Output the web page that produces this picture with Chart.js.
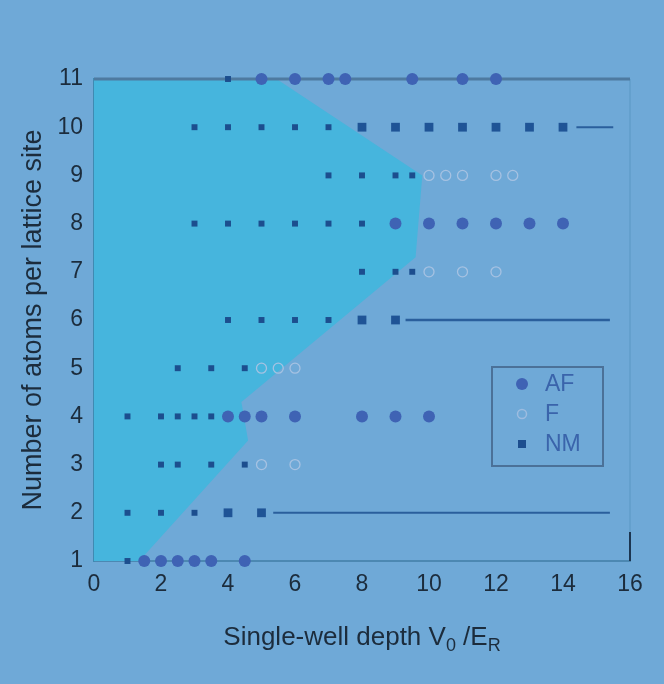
<!DOCTYPE html>
<html><head><meta charset="utf-8">
<script src="https://cdn.jsdelivr.net/npm/chart.js@4.4.0/dist/chart.umd.min.js"></script>
<style>
html,body{margin:0;padding:0;background:#6fa9d7;}
#wrap{width:664px;height:684px;position:relative;}
</style></head><body>
<div id="wrap"><canvas id="c" width="664" height="684"></canvas></div>
<script>
// ---- data ----
const xTickValues = [0, 2, 4, 6, 8, 10, 12, 14, 16];
const yTickValues = [1, 2, 3, 4, 5, 6, 7, 8, 9, 10, 11];
const seriesNames = ['AF', 'F', 'NM'];
const xTitleParts = ['Single-well depth V', '0', ' /E', 'R'];
const yTitle = 'Number of atoms per lattice site';

const afPoints = [
  {x:5,y:11},{x:6,y:11},{x:7,y:11},{x:7.5,y:11},{x:9.5,y:11},{x:11,y:11},{x:12,y:11},
  {x:9,y:8},{x:10,y:8},{x:11,y:8},{x:12,y:8},{x:13,y:8},{x:14,y:8},
  {x:4,y:4},{x:4.5,y:4},{x:5,y:4},{x:6,y:4},{x:8,y:4},{x:9,y:4},{x:10,y:4},
  {x:1.5,y:1},{x:2,y:1},{x:2.5,y:1},{x:3,y:1},{x:3.5,y:1},{x:4.5,y:1}
];
const fPoints = [
  {x:10,y:9},{x:10.5,y:9},{x:11,y:9},{x:12,y:9},{x:12.5,y:9},
  {x:10,y:7},{x:11,y:7},{x:12,y:7},
  {x:5,y:5},{x:5.5,y:5},{x:6,y:5},
  {x:5,y:3},{x:6,y:3}
];
const nmPoints = [
  {x:4,y:11},
  {x:3,y:10},{x:4,y:10},{x:5,y:10},{x:6,y:10},{x:7,y:10},
  {x:7,y:9},{x:8,y:9},{x:9,y:9},{x:9.5,y:9},
  {x:3,y:8},{x:4,y:8},{x:5,y:8},{x:6,y:8},{x:7,y:8},{x:8,y:8},
  {x:8,y:7},{x:9,y:7},{x:9.5,y:7},
  {x:4,y:6},{x:5,y:6},{x:6,y:6},{x:7,y:6},
  {x:2.5,y:5},{x:3.5,y:5},{x:4.5,y:5},
  {x:1,y:4},{x:2,y:4},{x:2.5,y:4},{x:3,y:4},{x:3.5,y:4},
  {x:2,y:3},{x:2.5,y:3},{x:3.5,y:3},{x:4.5,y:3},
  {x:1,y:2},{x:2,y:2},{x:3,y:2},
  {x:1,y:1}
];
const nmLargePoints = [
  {x:8,y:10},{x:9,y:10},{x:10,y:10},{x:11,y:10},{x:12,y:10},{x:13,y:10},{x:14,y:10},
  {x:8,y:6},{x:9,y:6},
  {x:4,y:2},{x:5,y:2}
];
const nmLine2 = [{x:5.35,y:2},{x:15.4,y:2}];
const nmLine6 = [{x:9.3,y:6},{x:15.4,y:6}];
const nmLine10 = [{x:14.4,y:10},{x:15.5,y:10}];
const topFrame = [{x:0,y:11},{x:16,y:11}];
const rightFrame = [{x:16,y:1},{x:16,y:11}];
const rightMark = [{x:16,y:1},{x:16,y:1.6}];
const phaseRegion = [
  {x:0,y:11},{x:5.45,y:11},{x:9.8,y:9},{x:9.6,y:7.3},{x:4.4,y:4.3},
  {x:4.6,y:3.5},{x:1.35,y:1},{x:0,y:1}
];

// ---- styles ----
const BG = '#6fa9d7';
const CYAN = '#46b5dd';
const AF_COL = '#3f63b4';
const NM_COL = '#1c4e8e';
const F_COL = '#a6c2e2';
const TXT = '#1c2c3c';
const LEG_TXT = '#3a64ab';
const FONT = "'Liberation Sans', Arial, sans-serif";

function seg(data, color, width) {
  return {type:'line', data, borderColor:color, borderWidth:width, pointRadius:0, fill:false, showLine:true, tension:0};
}

const bgPlugin = {
  id:'bg',
  beforeDraw(chart){
    const ctx = chart.ctx;
    ctx.save(); ctx.fillStyle = BG; ctx.fillRect(0,0,chart.width,chart.height); ctx.restore();
  }
};

const annotPlugin = {
  id:'annot',
  afterDraw(chart){
    const ctx = chart.ctx, ca = chart.chartArea;
    // x title with subscripts
    ctx.save();
    ctx.fillStyle = TXT;
    ctx.textBaseline = 'alphabetic';
    const big = "26px " + FONT, small = "18px " + FONT;
    const fonts = [big, small, big, small];
    const dy = [0, 6, 0, 6];
    let total = 0;
    xTitleParts.forEach((p,i)=>{ ctx.font = fonts[i]; total += ctx.measureText(p).width; });
    let x = (ca.left + ca.right)/2 - total/2;
    const baseY = ca.bottom + 84;
    xTitleParts.forEach((p,i)=>{ ctx.font = fonts[i]; ctx.fillText(p, x, baseY + dy[i]); x += ctx.measureText(p).width; });
    ctx.restore();

    // legend box
    const lx = ca.right - 138, ly = ca.top + 288, lw = 111, lh = 99;
    ctx.save();
    ctx.strokeStyle = '#4b7198'; ctx.lineWidth = 2;
    ctx.strokeRect(lx, ly, lw, lh);
    ctx.font = "23px " + FONT; ctx.fillStyle = LEG_TXT; ctx.textBaseline = 'middle';
    const rows = [ly+17, ly+47, ly+77];
    // AF
    ctx.beginPath(); ctx.arc(lx+30, rows[0], 6, 0, Math.PI*2); ctx.fillStyle = AF_COL; ctx.fill();
    // F
    ctx.beginPath(); ctx.arc(lx+30, rows[1], 4.5, 0, Math.PI*2); ctx.strokeStyle = '#9dbce0'; ctx.lineWidth = 1.5; ctx.stroke();
    // NM
    ctx.fillStyle = NM_COL; ctx.fillRect(lx+26, rows[2]-4, 8, 8);
    ctx.fillStyle = LEG_TXT;
    seriesNames.forEach((n,i)=>{ ctx.fillText(n, lx+53, rows[i]+1); });
    ctx.restore();
  }
};

new Chart(document.getElementById('c'), {
  type:'scatter',
  data:{ datasets:[
    {label:'AF', data:afPoints, pointStyle:'circle', pointRadius:6, backgroundColor:AF_COL, borderColor:AF_COL, borderWidth:0},
    {label:'F', data:fPoints, pointStyle:'circle', pointRadius:5, backgroundColor:'rgba(0,0,0,0)', borderColor:F_COL, borderWidth:1.3},
    {label:'NM', data:nmPoints, pointStyle:'rect', pointRadius:4.2, backgroundColor:NM_COL, borderColor:NM_COL, borderWidth:0},
    {label:'NM large', data:nmLargePoints, pointStyle:'rect', pointRadius:6.2, backgroundColor:'#1f5496', borderColor:'#1f5496', borderWidth:0},
    seg(nmLine2, '#2a5f9c', 2),
    seg(nmLine6, '#2a5f9c', 2.5),
    seg(nmLine10, '#2a5f9c', 2),
    seg(topFrame, '#4e7aa0', 3),
    seg(rightMark, '#1c3550', 2),
    seg(rightFrame, '#64a0cd', 2),
    {type:'line', label:'region', data:phaseRegion, fill:'shape', backgroundColor:CYAN, borderWidth:0, pointRadius:0, tension:0, showLine:true}
  ]},
  options:{
    responsive:false, animation:false,
    layout:{padding:{left:0, right:34, top:79, bottom:0}},
    plugins:{legend:{display:false}, tooltip:{enabled:false}, filler:{drawTime:'beforeDatasetsDraw'}},
    elements:{point:{hoverRadius:0}},
    clip:false,
    scales:{
      x:{type:'linear', min:0, max:16,
        afterBuildTicks(s){ s.ticks = xTickValues.map(v=>({value:v})); },
        afterFit(s){ s.height = 123; },
        grid:{display:false, drawTicks:false},
        border:{display:true, color:'#4c88b2', width:2},
        ticks:{padding:10, color:TXT, font:{family:FONT, size:23}}
      },
      y:{type:'linear', min:1, max:11,
        afterBuildTicks(s){ s.ticks = yTickValues.map(v=>({value:v})); },
        afterFit(s){ s.width = 94; },
        grid:{display:false, drawTicks:false},
        border:{display:true, color:'#3f8ab2', width:2},
        ticks:{padding:11, color:TXT, font:{family:FONT, size:23}},
        title:{display:true, text:yTitle, color:TXT, font:{family:FONT, size:27}, padding:{top:17, bottom:0}}
      }
    }
  },
  plugins:[bgPlugin, annotPlugin]
});
</script>
</body></html>
